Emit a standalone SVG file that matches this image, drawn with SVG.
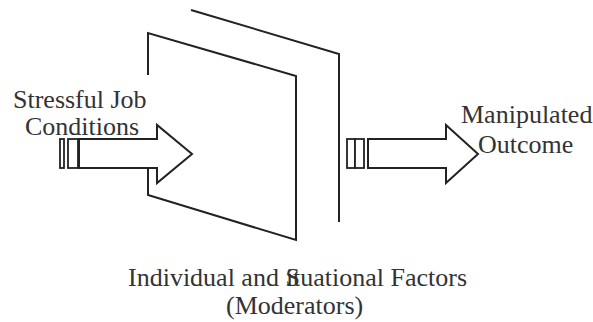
<svg xmlns="http://www.w3.org/2000/svg" width="593" height="322" viewBox="0 0 593 322">
  <style>
    .ln { fill: none; stroke: #222; stroke-width: 2; stroke-linejoin: miter; }
    .arr { fill: #fff; stroke: #222; stroke-width: 2; stroke-linejoin: miter; }
    .bar { fill: #fff; stroke: #222; stroke-width: 1.8; }
    .lbl { font-family: "Liberation Serif", "Times New Roman", serif; font-size: 26px; fill: #333; }
  </style>
  <rect width="593" height="322" fill="#fff"/>

  <!-- rear moderator panel -->
  <g id="panel-back">
    <polyline class="ln" points="191,10 339,54 339,222"/>
  </g>

  <!-- front moderator panel -->
  <g id="panel-front">
    <polyline class="ln" points="148,75 148,33 296,76 296,240 148,195 148,168"/>
  </g>

  <g id="connectors">
    <!-- input arrow -->
    <g id="arrow-in">
      <rect class="bar" x="60" y="139" width="4" height="29"/>
      <rect class="bar" x="68" y="139" width="10" height="29"/>
      <polygon class="arr" points="79,139 157,139 157,125 192,154 157,183 157,168 79,168"/>
    </g>
    <!-- output arrow -->
    <g id="arrow-out">
      <rect class="bar" x="347" y="139" width="8" height="29"/>
      <rect class="bar" x="355" y="139" width="9" height="29"/>
      <polygon class="arr" points="368,139 446,139 446,125 478,154 446,183 446,168 368,168"/>
    </g>
  </g>

  <g id="label-input">
    <text class="lbl" x="13" y="108">Stressful Job</text>
    <text class="lbl" x="25" y="135">Conditions</text>
  </g>

  <g id="label-output">
    <text class="lbl" x="461" y="123">Manipulated</text>
    <text class="lbl" x="478" y="153">Outcome</text>
  </g>

  <g id="label-moderators">
    <text class="lbl" x="128" y="286">Individual and S<tspan dx="-14">it</tspan>uational Factors</text>
    <text class="lbl" x="226" y="314">(Moderators)</text>
  </g>
</svg>
